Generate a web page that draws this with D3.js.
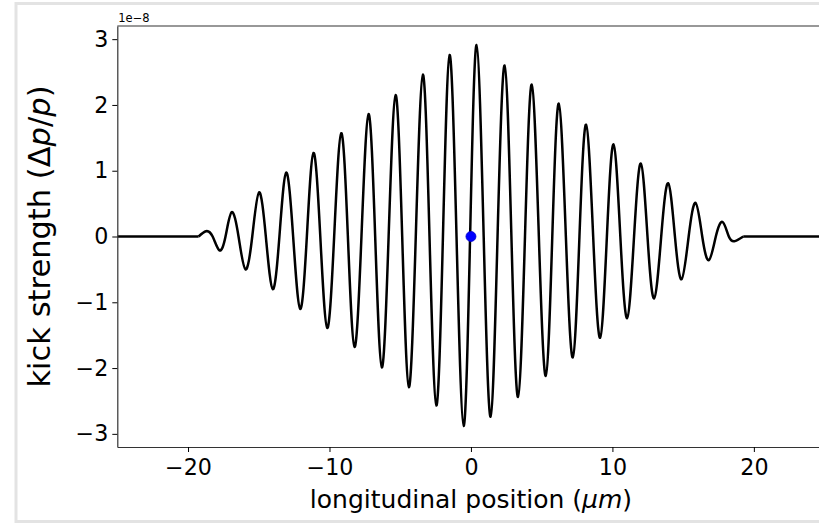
<!DOCTYPE html>
<html>
<head>
<meta charset="utf-8">
<script src="https://cdn.jsdelivr.net/npm/d3@7"></script>
<style>
  html, body { margin: 0; padding: 0; background: #fff; overflow: hidden; }
  svg { display: block; font-family: "DejaVu Sans", sans-serif; }
</style>
</head>
<body>
<svg id="chart" width="819" height="524"></svg>
<script>
// ---- data (x in µm, y in units of 1e-8) ----
const extremaX = [-18.73, -17.78, -16.91, -15.94, -14.98, -14.01, -13.06, -12.07, -11.13, -10.16,
                  -9.17, -8.23, -7.24, -6.30, -5.33, -4.39, -3.40, -2.45, -1.51, -0.52,
                  0.40, 1.39, 2.38, 3.33, 4.30, 5.29, 6.21, 7.20, 8.14, 9.13,
                  10.08, 11.04, 12.01, 12.95, 13.94, 14.89, 15.88, 16.82, 17.79, 18.66];
const extremaY = [0.08, -0.21, 0.37, -0.50, 0.67, -0.80, 0.97, -1.10, 1.27, -1.39,
                  1.57, -1.68, 1.86, -1.99, 2.15, -2.29, 2.46, -2.57, 2.76, -2.88,
                  2.91, -2.74, 2.60, -2.44, 2.31, -2.12, 2.02, -1.84, 1.70, -1.54,
                  1.40, -1.24, 1.11, -0.94, 0.81, -0.65, 0.51, -0.36, 0.22, -0.07];
const zeroX = [-19.25, -18.26, -17.35, -16.43, -15.46, -14.50, -13.54, -12.57, -11.60, -10.65,
               -9.67, -8.70, -7.74, -6.77, -5.82, -4.86, -3.90, -2.93, -1.98, -1.02,
               -0.06, 0.90, 1.88, 2.86, 3.82, 4.80, 5.75, 6.71, 7.67, 8.64,
               9.61, 10.56, 11.53, 12.48, 13.45, 14.42, 15.39, 16.35, 17.31, 18.23, 19.25];
const flatLeft = [-25, -19.25];
const flatRight = [19.25, 25];
const markerPoint = [0, 0];
const xTicks = [-20, -10, 0, 10, 20];
const yTicks = [-3, -2, -1, 0, 1, 2, 3];
const xDomain = [-25, 25];
const yDomain = [-3.2, 3.2];

// ---- layout ----
const svg = d3.select("#chart");
const mLeft = 117.3, mRight = 824.6, mTop = 26, mBottom = 447;

// figure frame (light gray border)
svg.append("rect")
  .attr("x", 16).attr("y", 3.5).attr("width", 830).attr("height", 518)
  .attr("fill", "none").attr("stroke", "#e3e3e3").attr("stroke-width", 3);

const x = d3.scaleLinear().domain(xDomain).range([mLeft, mRight]);
const y = d3.scaleLinear().domain(yDomain).range([mBottom, mTop]);

// oscillation points
const osc = extremaX.map((v, i) => ({x: v, y: extremaY[i]}))
  .concat(zeroX.map(v => ({x: v, y: 0})))
  .sort((a, b) => a.x - b.x);

const lineNat = d3.line().x(d => x(d.x)).y(d => y(d.y)).curve(d3.curveNatural);
const lineLin = d3.line().x(d => x(d.x)).y(d => y(d.y));

svg.append("defs").append("clipPath").attr("id", "clip")
  .append("rect").attr("x", mLeft).attr("y", mTop).attr("width", mRight - mLeft).attr("height", mBottom - mTop);

const g = svg.append("g").attr("clip-path", "url(#clip)");
g.append("path").datum(osc).attr("d", lineNat)
  .attr("fill", "none").attr("stroke", "#000").attr("stroke-width", 2.5).attr("stroke-linejoin", "round");
g.append("path").datum(flatLeft.map(v => ({x: v, y: 0}))).attr("d", lineLin)
  .attr("fill", "none").attr("stroke", "#000").attr("stroke-width", 2.5);
g.append("path").datum(flatRight.map(v => ({x: v, y: 0}))).attr("d", lineLin)
  .attr("fill", "none").attr("stroke", "#000").attr("stroke-width", 2.5);

// marker
svg.append("circle")
  .attr("cx", x(markerPoint[0])).attr("cy", y(markerPoint[1])).attr("r", 5)
  .attr("fill", "#0000ff").attr("stroke", "#0000cc").attr("stroke-width", 0.8);

// axes
const fmt = d => d3.format("d")(d).replace("-", "\u2212");
const xAxis = svg.append("g").attr("transform", `translate(0,${mBottom})`)
  .call(d3.axisBottom(x).tickValues(xTicks).tickFormat(fmt).tickSize(5).tickPadding(7).tickSizeOuter(0));
const yAxis = svg.append("g").attr("transform", `translate(${mLeft},0)`)
  .call(d3.axisLeft(y).tickValues(yTicks).tickFormat(fmt).tickSize(5).tickPadding(4).tickSizeOuter(0));
[xAxis, yAxis].forEach(a => {
  a.selectAll("text").attr("font-size", 22.2).attr("fill", "#000").attr("font-family", "DejaVu Sans");
  a.selectAll("line").attr("stroke", "#000").attr("stroke-width", 1);
  a.select(".domain").attr("stroke", "#333").attr("stroke-width", 1.2);
});

// top spine
svg.append("line").attr("x1", mLeft).attr("x2", mRight + 10).attr("y1", mTop).attr("y2", mTop)
  .attr("stroke", "#333").attr("stroke-width", 1.2);

// offset text
svg.append("text").attr("x", mLeft + 1).attr("y", 21.5)
  .attr("font-size", 11.5).attr("fill", "#000").text("1e\u22128");

// x label
const xl = svg.append("text").attr("x", (mLeft + mRight) / 2).attr("y", 508)
  .attr("text-anchor", "middle").attr("font-size", 25).attr("fill", "#000");
xl.append("tspan").text("longitudinal position (");
xl.append("tspan").attr("font-style", "italic").text("\u03bcm");
xl.append("tspan").text(")");

// y label
const yl = svg.append("text")
  .attr("transform", `translate(50,${(mTop + mBottom) / 2}) rotate(-90)`)
  .attr("text-anchor", "middle").attr("font-size", 30.5).attr("fill", "#000");
yl.append("tspan").text("kick strength (\u0394");
yl.append("tspan").attr("font-style", "italic").text("p");
yl.append("tspan").text("/");
yl.append("tspan").attr("font-style", "italic").text("p");
yl.append("tspan").text(")");
</script>
</body>
</html>
